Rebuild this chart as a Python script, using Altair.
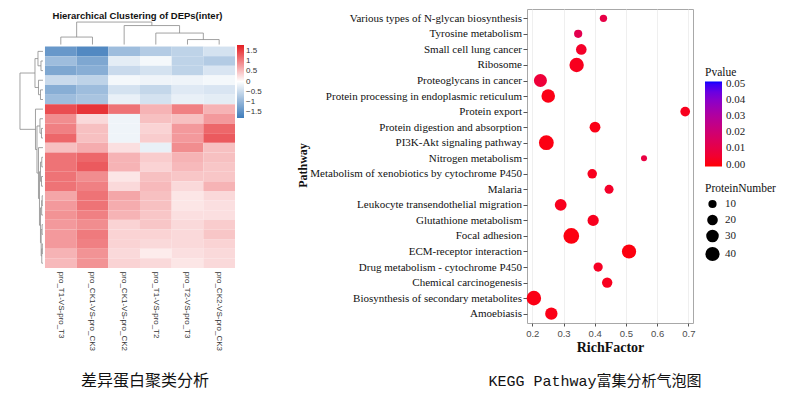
import altair as alt
import pandas as pd

# ---------------- heatmap (left) ----------------
hm_title = "Hierarchical Clustering of DEPs(inter)"
hm_columns = ["pro_T1-VS-pro_T3", "pro_CK1-VS-pro_CK3", "pro_CK1-VS-pro_CK2",
              "pro_T1-VS-pro_T2", "pro_T2-VS-pro_T3", "pro_CK2-VS-pro_CK3"]
z_T1_vs_T3 = [-1.4, -0.9, -1.2, -0.5, -1.1, -0.9, 1.4, 0.9, 1.0, 1.2, 0.5, 1.1,
              1.1, 1.1, 1.1, 0.7, 0.8, 0.85, 0.8, 0.8, 0.8, 0.6, 0.55]
z_CK1_vs_CK3 = [-1.6, -1.2, -1.1, -0.6, -0.9, -0.8, 1.6, 0.3, 0.5, 0.5, 0.65, 1.2,
                1.3, 0.9, 1.0, 1.1, 1.1, 1.0, 0.9, 1.05, 1.0, 0.85, 0.85]
z_CK1_vs_CK2 = [-0.9, -0.25, -0.5, -0.1, -0.4, -0.2, 1.1, -0.15, -0.15, -0.15, 0.25, 0.6,
                0.6, 0.2, 0.3, 0.7, 0.65, 0.6, 0.35, 0.35, 0.35, 0.3, 0.35]
z_T1_vs_T2 = [-0.7, -0.1, -0.4, -0.15, -0.55, -0.4, 0.6, 0.5, 0.35, 0.4, -0.2, 0.4,
              0.35, 0.5, 0.55, 0.5, 0.5, 0.45, 0.45, 0.35, 0.3, 0.15, 0.3]
z_T2_vs_T3 = [-0.6, -0.6, -0.6, -0.15, -0.3, -0.2, 1.0, 0.5, 0.8, 0.8, 0.9, 0.6,
              0.55, 0.45, 0.3, 0.2, 0.2, 0.25, 0.3, 0.3, 0.3, 0.25, 0.2]
z_CK2_vs_CK3 = [-0.4, -0.7, -0.35, -0.1, -0.35, -0.25, 0.6, 0.8, 1.2, 1.3, 0.5, 0.5,
                0.45, 0.45, 0.6, 0.3, 0.25, 0.25, 0.4, 0.45, 0.35, 0.3, 0.3]
hm_legend_values = [1.5, 1, 0.5, 0, -0.5, -1, -1.5]

# linkage: [child a, child b, merge height]; leaves are 0..n-1, merges n, n+1, ...
col_links = [[0, 1, 7.5], [4, 5, 5.0], [3, 7, 11.5], [2, 8, 19.0], [6, 9, 22.5]]
row_links = [
    [1, 2, 2.0], [0, 23, 5.0], [4, 5, 2.5], [3, 25, 4.5], [24, 26, 8.0],
    [8, 9, 1.5], [7, 28, 3.0],
    [11, 12, 1.2], [13, 14, 1.5], [30, 31, 2.5],
    [15, 16, 0.8], [33, 17, 1.3], [18, 19, 0.9], [20, 21, 0.7], [36, 22, 1.2],
    [35, 37, 1.8], [34, 38, 2.5], [32, 39, 3.5],
    [10, 40, 4.5], [29, 41, 6.0], [6, 42, 7.5], [27, 43, 23.0],
]

caption_left = "差异蛋白聚类分析"

# ---------------- KEGG bubble (right) ----------------
pathways = ["Various types of N-glycan biosynthesis", "Tyrosine metabolism",
            "Small cell lung cancer", "Ribosome", "Proteoglycans in cancer",
            "Protein processing in endoplasmic reticulum", "Protein export",
            "Protein digestion and absorption", "PI3K-Akt signaling pathway",
            "Nitrogen metabolism", "Metabolism of xenobiotics by cytochrome P450",
            "Malaria", "Leukocyte transendothelial migration", "Glutathione metabolism",
            "Focal adhesion", "ECM-receptor interaction", "Drug metabolism - cytochrome P450",
            "Chemical carcinogenesis", "Biosynthesis of secondary metabolites", "Amoebiasis"]
rich_factor = [0.428, 0.347, 0.357, 0.342, 0.226, 0.251, 0.690, 0.401, 0.245, 0.558,
               0.392, 0.446, 0.291, 0.395, 0.325, 0.510, 0.411, 0.440, 0.205, 0.261]
protein_number = [7, 10, 20, 41, 33, 36, 16, 21, 44, 3,
                  15, 13, 26, 23, 50, 40, 14, 19, 42, 29]
p_value = [0.010, 0.012, 0.004, 0.002, 0.007, 0.0008, 0.002, 0.001, 0.0005, 0.009,
           0.002, 0.004, 0.002, 0.002, 0.0002, 0.0001, 0.003, 0.002, 0.0008, 0.001]
x_ticks = [0.2, 0.3, 0.4, 0.5, 0.6, 0.7]
p_ticks = [0.0, 0.01, 0.02, 0.03, 0.04, 0.05]
size_ticks = [10, 20, 30, 40]
caption_right = "KEGG Pathway富集分析气泡图"

# ================= build left panel =================
n_rows = len(z_T1_vs_T3)
n_cols = len(hm_columns)
cols_data = [z_T1_vs_T3, z_CK1_vs_CK3, z_CK1_vs_CK2, z_T1_vs_T2, z_T2_vs_T3, z_CK2_vs_CK3]
cells = []
for c, vals in enumerate(cols_data):
    for r, v in enumerate(vals):
        cells.append({"x0": c, "x1": c + 1, "y0": r, "y1": r + 1, "z": v})
hm_df = pd.DataFrame(cells)

LW, LH = 216, 259
X_DOM = [-0.82, n_cols]
Y_DOM = [-3.9, n_rows]
COL_PX = LW / (X_DOM[1] - X_DOM[0])
ROW_PX = LH / (Y_DOM[1] - Y_DOM[0])


def dendro(links, n):
    pos = {i: i + 0.5 for i in range(n)}
    hgt = {i: 0.0 for i in range(n)}
    segs = []
    for k, (a, b, h) in enumerate(links):
        segs.append((pos[a], pos[b], h, h))
        segs.append((pos[a], pos[a], hgt[a], h))
        segs.append((pos[b], pos[b], hgt[b], h))
        pos[n + k] = (pos[a] + pos[b]) / 2
        hgt[n + k] = h
    return segs


seg_rows = []
for p1, p2, h1, h2 in dendro(col_links, n_cols):
    seg_rows.append({"x": p1, "x2": p2, "y": -(2 + h1) / ROW_PX, "y2": -(2 + h2) / ROW_PX})
for p1, p2, h1, h2 in dendro(row_links, n_rows):
    seg_rows.append({"y": p1, "y2": p2, "x": -(2 + h1) / COL_PX, "x2": -(2 + h2) / COL_PX})
seg_df = pd.DataFrame(seg_rows)

xs = alt.Scale(domain=X_DOM, nice=False, zero=False)
ys = alt.Scale(domain=Y_DOM, nice=False, zero=False, reverse=True)

heat = alt.Chart(hm_df).mark_rect().encode(
    x=alt.X("x0:Q", scale=xs, axis=None),
    x2="x1:Q",
    y=alt.Y("y0:Q", scale=ys, axis=None),
    y2="y1:Q",
    color=alt.Color(
        "z:Q",
        scale=alt.Scale(domain=[-1.78, 0, 1.78], range=["#3F7CBB", "#FFFFFF", "#E41D22"],
                        interpolate="rgb"),
        legend=alt.Legend(
            title=None, orient="none", legendX=218, legendY=36,
            gradientLength=73, gradientThickness=7, gradientStrokeWidth=0,
            values=hm_legend_values,
            labelExpr="datum.value > 0 ? '' + datum.value : (datum.value < 0 ? '\u2212' + abs(datum.value) : '0')",
            labelFont="Liberation Sans", labelFontSize=8, labelColor="#333333",
            labelOffset=2, padding=0,
        ),
    ),
)

dend = alt.Chart(seg_df).mark_rule(color="#8a8a8a", strokeWidth=0.8).encode(
    x=alt.X("x:Q", scale=xs, axis=None), x2="x2:Q",
    y=alt.Y("y:Q", scale=ys, axis=None), y2="y2:Q",
)

lab_df = pd.DataFrame({"label": hm_columns, "xc": [i + 0.5 for i in range(n_cols)],
                       "yc": [n_rows + 0.4] * n_cols})
col_labels = alt.Chart(lab_df).mark_text(
    angle=90, align="left", baseline="middle", font="Liberation Sans", fontSize=8,
    color="#333333",
).encode(
    x=alt.X("xc:Q", scale=xs, axis=None),
    y=alt.Y("yc:Q", scale=ys, axis=None),
    text="label:N",
)

title_l = alt.Chart(pd.DataFrame({"t": [hm_title]})).mark_text(
    font="Liberation Sans", fontSize=9.5, fontWeight="bold", color="#111111",
    align="center", baseline="middle",
).encode(x=alt.value(118.5), y=alt.value(6.7), text="t:N")

cap_l = alt.Chart(pd.DataFrame({"t": [caption_left]})).mark_text(
    font="Noto Sans CJK SC", fontSize=16, color="#111111", align="center", baseline="middle",
).encode(x=alt.value(126), y=alt.value(372), text="t:N")

left = alt.layer(heat, dend, col_labels, title_l, cap_l).properties(width=LW, height=LH)

# ================= build right panel =================
kegg_df = pd.DataFrame({"Pathway": pathways, "RichFactor": rich_factor,
                        "ProteinNumber": protein_number, "Pvalue": p_value})

bub = alt.Chart(kegg_df).mark_circle(opacity=1).encode(
    x=alt.X("RichFactor:Q",
            scale=alt.Scale(domain=[0.183, 0.715], nice=False, zero=False),
            axis=alt.Axis(values=x_ticks, format=".1f", title="RichFactor",
                          labelFont="Liberation Sans", labelFontSize=9.5, labelColor="#4d4d4d",
                          tickColor="#555555", tickSize=3, labelPadding=2, domain=False,
                          gridColor="#ebebeb", gridWidth=0.8,
                          titleFont="Liberation Serif", titleFontSize=14, titleFontWeight="bold",
                          titleColor="#111111", titlePadding=3)),
    y=alt.Y("Pathway:N", sort=pathways,
            scale=alt.Scale(padding=0.6),
            axis=alt.Axis(title="Pathway", labelFont="Liberation Serif", labelFontSize=11,
                          labelColor="#111111", tickColor="#555555", tickSize=4,
                          labelPadding=1.5, domain=False, gridColor="#ebebeb", gridWidth=0.8,
                          labelLimit=400,
                          titleFont="Liberation Serif", titleFontSize=12, titleFontWeight="bold",
                          titleColor="#111111", titleX=-225, titleY=156,
                          titleBaseline="middle")),
    color=alt.Color("Pvalue:Q",
                    scale=alt.Scale(domain=[-0.0012, 0.0515], range=["#FF0000", "#0000FF"],
                                    interpolate="lab"),
                    legend=alt.Legend(orient="none", legendX=178, legendY=58, values=p_ticks,
                                      format=".2f", gradientLength=85, gradientThickness=17,
                                      gradientStrokeWidth=0, titleFont="Liberation Serif",
                                      titleFontSize=11.5, titleFontWeight="normal",
                                      titleColor="#111111", titlePadding=3,
                                      labelFont="Liberation Serif", labelFontSize=11,
                                      labelColor="#1a1a1a", labelOffset=4, padding=0)),
    size=alt.Size("ProteinNumber:Q",
                  scale=alt.Scale(domain=[0, 50], range=[22.8, 246.8]),
                  legend=alt.Legend(orient="none", legendX=178, legendY=174, values=size_ticks,
                                    symbolType="circle", symbolFillColor="black",
                                    symbolStrokeColor="black", symbolStrokeWidth=0,
                                    symbolOpacity=1, titleFont="Liberation Serif",
                                    titleFontSize=11.5, titleFontWeight="normal",
                                    titleColor="#111111", titlePadding=4,
                                    labelFont="Liberation Serif", labelFontSize=11,
                                    labelColor="#1a1a1a", labelOffset=5, rowPadding=4,
                                    padding=0)),
)

cap_r = alt.Chart(pd.DataFrame({"t": [caption_right]})).mark_text(
    font="Liberation Mono, Noto Sans CJK SC", fontSize=15, color="#111111",
    align="center", baseline="middle",
).encode(x=alt.value(68), y=alt.value(372), text="t:N")

right = alt.layer(bub, cap_r).properties(
    width=166, height=314,
    view=alt.ViewBackground(stroke="#a8a8a8", strokeWidth=1),
)

chart = alt.hconcat(left, right, spacing=33).resolve_scale(
    color="independent", size="independent"
).properties(
    padding={"left": 11, "top": 0, "right": 0, "bottom": 0},
    background="white",
).configure_view(stroke=None)

chart.save("out.html", embed_options={"renderer": "svg", "actions": False})
